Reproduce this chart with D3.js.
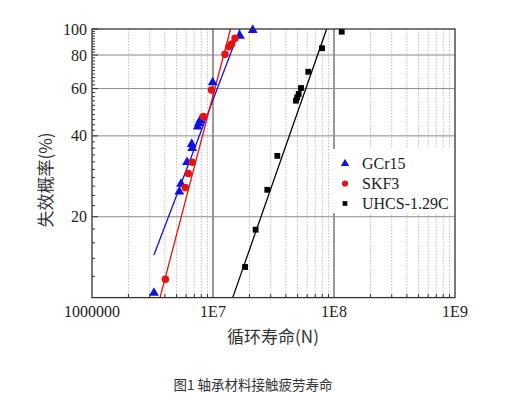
<!DOCTYPE html>
<html><head><meta charset="utf-8">
<script src="https://cdn.jsdelivr.net/npm/d3@7"></script>
<style>body{margin:0;background:#fff}svg{display:block}</style>
</head><body>
<svg id="c" width="508" height="398"></svg>
<script>
// ---- data ----
const xTickValues = [1e6, 1e7, 1e8, 1e9];
const xTickLabels = ["1000000", "1E7", "1E8", "1E9"];
const yTickValues = [20, 40, 60, 80, 100];
const yTickLabels = ["20", "40", "60", "80", "100"];
const yMinorTicks = [12,14,16,18,22,24,26,28,30,32,34,36,38,42,44,46,48,50,52,54,56,58,62,64,66,68,70,72,74,76,78,82,84,86,88,90,92,94,96,98];

const seriesNames = ["GCr15", "SKF3", "UHCS-1.29C"];

const gcr15N = [3.25e6, 5.27e6, 5.44e6, 6.10e6, 6.67e6, 6.74e6, 7.47e6, 7.66e6, 7.85e6, 9.94e6, 1.67e7, 2.13e7];
const gcr15F = [10.4, 24.8, 26.5, 31.9, 37.3, 36.0, 43.3, 44.6, 45.8, 63.3, 94.2, 99.1];

const skf3N = [4.04e6, 5.90e6, 6.25e6, 6.74e6, 8.32e6, 9.72e6, 1.257e7, 1.356e7, 1.422e7, 1.52e7];
const skf3F = [11.7, 25.7, 29.0, 31.9, 47.2, 59.3, 80.5, 85.9, 87.9, 92.3];

const uhcsN = [1.84e7, 2.25e7, 2.81e7, 3.40e7, 4.85e7, 4.97e7, 5.11e7, 5.34e7, 6.13e7, 7.96e7, 1.158e8];
const uhcsF = [13.0, 17.9, 25.2, 33.7, 54.1, 55.7, 57.3, 60.3, 69.3, 84.8, 97.7];

// fitted lines (end points)
const gcr15FitN = [3.25e6, 1.67e7], gcr15FitF = [14.4, 100];
const skf3FitN = [3.65e6, 1.395e7], skf3FitF = [10, 100];
const uhcsFitN = [1.455e7, 8.70e7], uhcsFitF = [10, 100];

// ---- layout ----
const L = 92, R = 455, T = 29, B = 297.6;
const svg = d3.select("#c");
const x = d3.scaleLog().domain([1e6, 1e9]).range([L, R]);
const y = d3.scaleLog().domain([10, 100]).range([B, T]);
const serif = "'Liberation Serif','Times New Roman',serif";
const cjk = "'Noto Sans CJK SC',sans-serif";

svg.append("defs").append("clipPath").attr("id", "pc")
  .append("rect").attr("x", L).attr("y", T).attr("width", R - L).attr("height", B - T);

// minor vertical gridlines (dotted)
const xMinor = [];
[1e6, 1e7, 1e8].forEach(d => { for (let k = 2; k <= 9; k++) xMinor.push(d * k); });
const g = svg.append("g");
g.selectAll("line.vm").data(xMinor).join("line")
  .attr("x1", d => x(d)).attr("x2", d => x(d)).attr("y1", T).attr("y2", B)
  .attr("stroke", "#b0b0b0").attr("stroke-width", 0.8).attr("stroke-dasharray", "1.5,1.5");
// major vertical gridlines
g.selectAll("line.vM").data([1e7, 1e8]).join("line")
  .attr("x1", d => x(d)).attr("x2", d => x(d)).attr("y1", T).attr("y2", B)
  .attr("stroke", "#333").attr("stroke-width", 1);
// horizontal gridlines
g.selectAll("line.h").data([20, 40, 60, 80]).join("line")
  .attr("x1", L).attr("x2", R).attr("y1", d => y(d)).attr("y2", d => y(d))
  .attr("stroke", "#8a8a8a").attr("stroke-width", 1);

// legend background (covers the grid)
svg.append("rect").attr("x", 331).attr("y", 149).attr("width", 122).attr("height", 64).attr("fill", "#fff");

// fit lines
const line = d3.line().x(d => x(d[0])).y(d => y(d[1]));
const fits = [
  {n: gcr15FitN, f: gcr15FitF, c: "#1010e8"},
  {n: skf3FitN, f: skf3FitF, c: "#e81010"},
  {n: uhcsFitN, f: uhcsFitF, c: "#000"}
];
const lg = svg.append("g").attr("clip-path", "url(#pc)");
fits.forEach(s => {
  lg.append("path").datum(d3.zip(s.n, s.f)).attr("d", line)
    .attr("fill", "none").attr("stroke", s.c).attr("stroke-width", 1.3);
});

// markers
const symTypes = [d3.symbolTriangle, d3.symbolCircle, d3.symbolSquare];
const symSizes = [42, 44, 34];
const colors = ["#1010e8", "#e81010", "#000"];
const series = [
  {n: gcr15N, f: gcr15F},
  {n: skf3N, f: skf3F},
  {n: uhcsN, f: uhcsF}
];
series.forEach((s, i) => {
  const sy = d3.symbol().type(symTypes[i]).size(symSizes[i]);
  svg.append("g").selectAll("path").data(d3.zip(s.n, s.f)).join("path")
    .attr("d", sy).attr("transform", d => `translate(${x(d[0])},${y(d[1])})`)
    .attr("fill", colors[i]);
});

// axes frame
svg.append("rect").attr("x", L).attr("y", T).attr("width", R - L).attr("height", B - T)
  .attr("fill", "none").attr("stroke", "#333").attr("stroke-width", 1.3);

// y ticks (inward)
svg.append("g").selectAll("line").data(yMinorTicks).join("line")
  .attr("x1", L).attr("x2", L + 3).attr("y1", d => y(d)).attr("y2", d => y(d))
  .attr("stroke", "#333").attr("stroke-width", 1);
svg.append("g").selectAll("line").data(yTickValues).join("line")
  .attr("x1", L).attr("x2", L + 6).attr("y1", d => y(d)).attr("y2", d => y(d))
  .attr("stroke", "#333").attr("stroke-width", 1);
// x minor ticks (inward)
svg.append("g").selectAll("line").data(xMinor).join("line")
  .attr("x1", d => x(d)).attr("x2", d => x(d)).attr("y1", B).attr("y2", B - 3.5)
  .attr("stroke", "#333").attr("stroke-width", 1);

// tick labels
svg.append("g").selectAll("text").data(xTickValues).join("text")
  .attr("x", d => x(d)).attr("y", 317).attr("text-anchor", "middle")
  .attr("font-family", serif).attr("font-size", 16).attr("fill", "#222")
  .text((d, i) => xTickLabels[i]);
svg.append("g").selectAll("text").data(yTickValues).join("text")
  .attr("x", 87).attr("y", d => y(d)).attr("dy", "0.35em").attr("text-anchor", "end")
  .attr("font-family", serif).attr("font-size", 16).attr("fill", "#222")
  .text((d, i) => yTickLabels[i]);

// axis titles
svg.append("text").attr("transform", "translate(52,180) rotate(-90)")
  .attr("text-anchor", "middle").attr("font-family", cjk).attr("font-size", 17).attr("fill", "#333")
  .text("失效概率(%)");
svg.append("text").attr("x", 273).attr("y", 343).attr("text-anchor", "middle")
  .attr("font-family", cjk).attr("font-size", 17).attr("fill", "#333")
  .text("循环寿命(N)");

// caption
svg.append("text").attr("x", 253).attr("y", 390).attr("text-anchor", "middle")
  .attr("font-family", cjk).attr("font-size", 13.5).attr("fill", "#333")
  .text("图1 轴承材料接触疲劳寿命");

// legend
const legSizes = [30, 30, 22];
const legY = [163.5, 183.5, 203.5];
seriesNames.forEach((nm, i) => {
  svg.append("path").attr("d", d3.symbol().type(symTypes[i]).size(legSizes[i])())
    .attr("transform", `translate(345,${legY[i]})`).attr("fill", colors[i]);
  svg.append("text").attr("x", 362).attr("y", legY[i]).attr("dy", "0.35em")
    .attr("font-family", serif).attr("font-size", 16).attr("fill", "#222").text(nm);
});
</script>
</body></html>
